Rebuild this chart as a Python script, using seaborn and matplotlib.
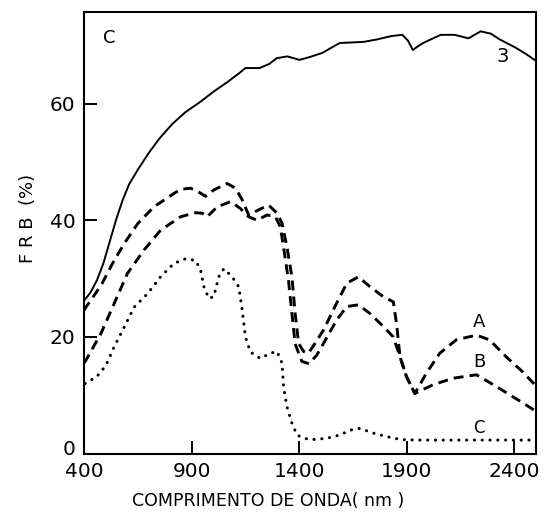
import matplotlib
matplotlib.use("Agg")
import matplotlib.pyplot as plt
import matplotlib.transforms as mtransforms
import seaborn as sns
import pandas as pd

# ---- data ----
wl_3 = [400, 430, 460, 490, 520, 550, 580, 610, 649, 700, 750, 810, 870, 940, 1000,
        1070, 1120, 1150, 1216, 1260, 1296, 1345, 1401, 1450, 1507, 1588, 1650, 1701,
        1760, 1830, 1879, 1905, 1928, 1950, 1976, 2057, 2122, 2186, 2243, 2290, 2332,
        2400, 2450, 2497]
frb_3 = [26.2, 27.6, 29.7, 32.6, 36.4, 40.2, 43.5, 46.2, 48.6, 51.5, 54.0, 56.5, 58.5,
         60.3, 62.0, 63.8, 65.2, 66.1, 66.1, 66.8, 67.8, 68.1, 67.5, 68.0, 68.7, 70.4,
         70.5, 70.6, 71.0, 71.6, 71.8, 70.8, 69.2, 69.8, 70.4, 71.8, 71.8, 71.2, 72.4,
         72.0, 71.0, 69.7, 68.6, 67.4]

wl_A = [400, 409, 479, 540, 587, 649, 725, 818, 849, 895, 930, 965, 1003, 1065, 1104,
        1135, 1165, 1212, 1258, 1297, 1320, 1343, 1366, 1381, 1397, 1420, 1443, 1475,
        1513, 1574, 1621, 1675, 1729, 1790, 1837, 1852, 1868, 1898, 1937, 1991, 2053,
        2130, 2223, 2284, 2361, 2438, 2497]
frb_A = [24.5, 25.1, 28.8, 33.1, 36.0, 39.4, 42.3, 44.6, 45.3, 45.5, 44.9, 44.1, 45.2,
         46.3, 45.5, 43.5, 40.9, 41.8, 42.6, 41.2, 39.5, 35.4, 30.3, 24.0, 18.9, 17.5,
         17.2, 19.0, 21.2, 25.8, 29.2, 30.3, 28.6, 26.9, 26.0, 22.3, 16.6, 13.2, 10.3,
         13.8, 17.2, 19.5, 20.3, 19.5, 16.6, 14.0, 11.7]

wl_B = [400, 409, 479, 540, 602, 679, 756, 849, 919, 950, 972, 1019, 1081, 1127, 1165,
        1204, 1250, 1289, 1312, 1327, 1350, 1366, 1381, 1412, 1445, 1480, 1513, 1574,
        1621, 1675, 1729, 1790, 1837, 1868, 1898, 1937, 2022, 2114, 2223, 2315, 2438,
        2497]
frb_B = [15.5, 16.0, 20.6, 25.7, 30.9, 34.9, 38.3, 40.6, 41.3, 41.2, 40.6, 42.3, 43.2,
         42.0, 40.6, 40.0, 40.9, 40.6, 38.9, 35.4, 29.7, 24.0, 18.8, 15.8, 15.4, 16.8,
         18.9, 22.9, 25.2, 25.5, 24.0, 21.8, 20.0, 16.6, 13.2, 10.3, 11.8, 12.9, 13.5,
         11.5, 8.7, 7.3]

wl_C = [405, 460, 502, 540, 587, 633, 695, 756, 818, 872, 919, 942, 957, 980, 1003,
        1026, 1050, 1088, 1119, 1135, 1150, 1173, 1219, 1266, 1297, 1320, 1327, 1343,
        1366, 1389, 1420, 1466, 1528, 1590, 1636, 1682, 1744, 1806, 1870, 1950, 2100,
        2250, 2400, 2497]
frb_C = [12.0, 13.2, 15.1, 18.3, 21.7, 25.1, 27.4, 30.3, 32.6, 33.4, 33.1, 31.4, 28.6,
         26.6, 26.9, 30.3, 31.7, 30.3, 28.6, 24.6, 20.0, 17.4, 16.3, 17.2, 17.5, 15.5,
         11.5, 8.0, 5.2, 3.2, 2.6, 2.4, 2.6, 3.2, 4.0, 4.3, 3.5, 2.9, 2.4, 2.3, 2.3,
         2.3, 2.3, 2.3]

x_ticks = [400, 900, 1400, 1900, 2400]
y_ticks = [0, 20, 40, 60]
x_label = "COMPRIMENTO DE ONDA( nm )"
y_label = "F R B  (%)"

# ---- plot ----
sns.set_theme(style="ticks")
plt.rcParams["font.family"] = ["DejaVu Sans"]
plt.rcParams["text.color"] = "black"
plt.rcParams["axes.labelcolor"] = "black"

fig = plt.figure(figsize=(5.45, 5.12), dpi=100)
ax = fig.add_axes([84 / 545, 58.5 / 512, 452 / 545, 442 / 512])

df3 = pd.DataFrame({"wl": wl_3, "frb": frb_3})
dfA = pd.DataFrame({"wl": wl_A, "frb": frb_A})
dfB = pd.DataFrame({"wl": wl_B, "frb": frb_B})
dfC = pd.DataFrame({"wl": wl_C, "frb": frb_C})

sns.lineplot(data=df3, x="wl", y="frb", ax=ax, color="black", linewidth=1.4)
sns.lineplot(data=dfA, x="wl", y="frb", ax=ax, color="black", linewidth=2.1)
ax.lines[-1].set_linestyle((0, (3.4, 2.1)))
sns.lineplot(data=dfB, x="wl", y="frb", ax=ax, color="black", linewidth=2.1)
ax.lines[-1].set_linestyle((0, (3.4, 2.1)))
sns.lineplot(data=dfC, x="wl", y="frb", ax=ax, color="black", linewidth=2.2)
ax.lines[-1].set_linestyle((0, (0.05, 2.5)))
ax.lines[-1].set_dash_capstyle("round")

ax.set_xlim(400, 2500)
ax.set_ylim(0, 75.8)
ax.set_xticks(x_ticks)
ax.set_yticks(y_ticks)
ax.set_xticklabels([str(v) for v in x_ticks])
ax.set_yticklabels([str(v) for v in y_ticks])
ax.tick_params(direction="in", length=9.5, width=1.4, labelsize=14.5,
               colors="black", labelcolor="black", pad=6)
for s in ax.spines.values():
    s.set_visible(True)
    s.set_linewidth(1.5)
    s.set_color("black")

# lift the "0" label slightly so it sits above the "400" label
zero_lbl = ax.get_yticklabels()[0]
zero_lbl.set_transform(zero_lbl.get_transform() +
                       mtransforms.ScaledTranslation(0, 4 / 72, fig.dpi_scale_trans))

ax.set_xlabel(x_label, fontsize=12.5, color="black")
ax.xaxis.set_label_coords((268 - 84) / 452, -(501 - 453.5) / 442)
ax.xaxis.label.set_va("center")
ax.set_ylabel(y_label, fontsize=13, color="black")
ax.yaxis.set_label_coords((28 - 84) / 452, (453.5 - 218) / 442)
ax.yaxis.label.set_va("center")

ax.text(516, 71.3, "C", fontsize=13, ha="center", va="center", color="black")
ax.text(2344, 68.0, "3", fontsize=14, ha="center", va="center", color="black")
ax.text(2235, 22.6, "A", fontsize=13, ha="center", va="center", color="black")
ax.text(2235, 15.7, "B", fontsize=13, ha="center", va="center", color="black")
ax.text(2235, 4.3, "C", fontsize=12, ha="center", va="center", color="black")

fig.savefig("out.png", dpi=100, facecolor="white")
